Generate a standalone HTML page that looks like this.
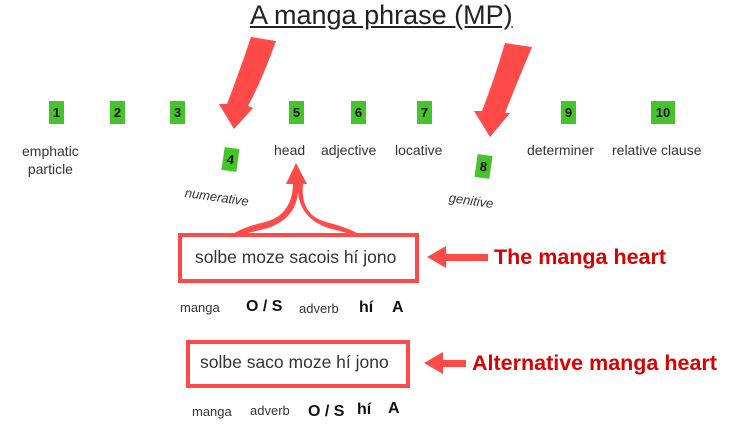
<!DOCTYPE html>
<html><head><meta charset="utf-8"><style>
body{margin:0;width:734px;height:431px;background:#fff;overflow:hidden;position:relative;font-family:"Liberation Sans",sans-serif;color:#222}
.t{position:absolute;white-space:nowrap}
.g{position:absolute;background:#44c42a;color:#111;font-weight:bold;font-size:13px;text-align:center;line-height:23px;height:23px;width:15px}
.l{font-size:14px;color:#333}
.red{color:#d80000;font-weight:bold;font-size:21.5px}
.b{font-weight:bold;font-size:16px;color:#111}
</style></head><body>
<svg width="734" height="431" style="position:absolute;left:0;top:0">
<g fill="#ff4a4a">
<path d="M251,37 L276,41 Q262,80 248,106 L253,108 L234,129 L219,104 L227,104 Q240,70 251,37Z"/>
<path d="M505,43 L532,47 Q516,85 505,113 L510,113 L490,137 L474,111 L482,111 Q494,80 505,43Z"/>
<path d="M296,163 L286,184 L293,184 Q292,215 265,222 Q240,228 230,236 L236,236 Q252,232 268,228 Q296,218 298,192 Q300,218 328,228 Q345,232 356,236 L362,236 Q350,228 326,222 Q300,215 303,184 L307,184 Z"/>
<path d="M427,257 L446,246 L446,254 L488,254 L488,261 L446,261 L446,268Z"/>
<path d="M424,363 L443,352 L443,360 L466,360 L466,367 L443,367 L443,374Z"/>
</g>
<rect x="180" y="235" width="237" height="46" fill="none" stroke="#ff4a4a" stroke-width="4"/>
<rect x="188" y="342" width="220" height="44" fill="none" stroke="#ff4a4a" stroke-width="4"/>
</svg>
<div class="t" style="left:250px;top:0px;font-size:27px;text-decoration:underline;color:#222">A manga phrase (MP)</div>
<div class="g" style="left:49px;top:101px">1</div>
<div class="g" style="left:110px;top:101px">2</div>
<div class="g" style="left:170px;top:101px">3</div>
<div class="g" style="left:289px;top:101px">5</div>
<div class="g" style="left:351px;top:101px">6</div>
<div class="g" style="left:417px;top:101px">7</div>
<div class="g" style="left:561px;top:101px">9</div>
<div class="g" style="left:651px;top:101px;width:24px">10</div>
<div class="g" style="left:223px;top:148px;transform:rotate(8deg)">4</div>
<div class="g" style="left:476px;top:155px;transform:rotate(8deg)">8</div>
<div class="t l" style="left:22px;top:142px;text-align:center;line-height:18px">emphatic<br>particle</div>
<div class="t l" style="left:274px;top:142px">head</div>
<div class="t l" style="left:321px;top:142px">adjective</div>
<div class="t l" style="left:395px;top:142px">locative</div>
<div class="t l" style="left:527px;top:142px">determiner</div>
<div class="t l" style="left:612px;top:142px">relative clause</div>
<div class="t l" style="left:186px;top:185px;transform:rotate(8deg);transform-origin:left top;font-style:italic;font-size:13px">numerative</div>
<div class="t l" style="left:450px;top:190px;transform:rotate(8deg);transform-origin:left top;font-style:italic;font-size:13px">genitive</div>
<div class="t" style="left:195px;top:247px;font-size:17.5px;color:#333">solbe moze sacois hí jono</div>
<div class="t" style="left:200px;top:352px;font-size:17.5px;color:#333">solbe saco moze hí jono</div>
<div class="t red" style="left:494px;top:245px">The manga heart</div>
<div class="t red" style="left:472px;top:351px">Alternative manga heart</div>
<div class="t l" style="left:180px;top:300px;font-size:13px">manga</div>
<div class="t b" style="left:246px;top:298px">O / S</div>
<div class="t l" style="left:299px;top:301px;font-size:13px">adverb</div>
<div class="t b" style="left:359px;top:299px">hí</div>
<div class="t b" style="left:392px;top:299px">A</div>
<div class="t l" style="left:192px;top:404px;font-size:13px">manga</div>
<div class="t l" style="left:250px;top:403px;font-size:13px">adverb</div>
<div class="t b" style="left:308px;top:403px">O / S</div>
<div class="t b" style="left:357px;top:401px">hí</div>
<div class="t b" style="left:388px;top:400px">A</div>
</body></html>
